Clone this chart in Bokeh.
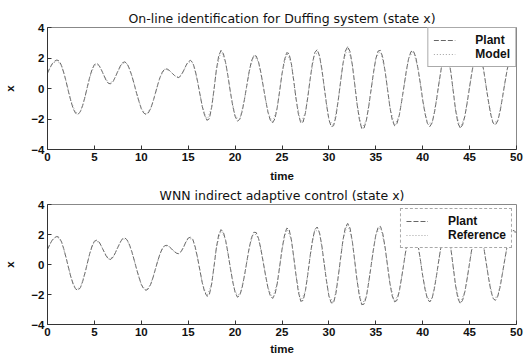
import numpy as np
from bokeh.plotting import figure
from bokeh.layouts import column
from bokeh.models import Range1d, FixedTicker, Legend, LegendItem
from bokeh.embed import file_html
from bokeh.resources import INLINE

# ---------------- data ----------------
dt_fine = 0.25
dt_coarse = 0.5

# top panel: plant state x (step 0.25, t = 0 .. 50)
plant_top = [
    1.00, 1.35, 1.62, 1.79, 1.87, 1.80, 1.50, 1.01, 0.41, -0.24, -0.84, -1.34, -1.63, -1.70, -1.52, -1.11, -0.54, 0.11, 0.74, 1.25,
    1.57, 1.65, 1.51, 1.22, 0.87, 0.54, 0.33, 0.31, 0.47, 0.78, 1.13, 1.46, 1.69, 1.75, 1.61, 1.28, 0.82, 0.27, -0.32, -0.85,
    -1.32, -1.60, -1.70, -1.60, -1.31, -0.86, -0.32, 0.25, 0.73, 1.09, 1.27, 1.28, 1.18, 1.03, 0.87, 0.75, 0.72, 0.86, 1.15, 1.49,
    1.75, 1.85, 1.68, 1.18, 0.46, -0.37, -1.17, -1.76, -2.08, -1.99, -1.24, -0.09, 1.21, 2.13, 2.50, 2.29, 1.66, 0.78, -0.24, -1.15,
    -1.82, -2.14, -2.02, -1.51, -0.71, 0.20, 1.11, 1.81, 2.16, 2.13, 1.73, 1.04, 0.15, -0.74, -1.54, -2.07, -2.25, -1.98, -1.23, -0.16,
    0.96, 1.84, 2.35, 2.29, 1.62, 0.52, -0.68, -1.69, -2.25, -2.20, -1.59, -0.58, 0.61, 1.68, 2.36, 2.55, 2.14, 1.28, 0.10, -1.07,
    -2.04, -2.50, -2.44, -1.83, -0.75, 0.47, 1.63, 2.45, 2.74, 2.43, 1.55, 0.30, -1.00, -2.03, -2.63, -2.59, -2.08, -1.16, -0.07, 1.03,
    1.95, 2.46, 2.50, 2.02, 1.10, -0.05, -1.20, -2.05, -2.44, -2.31, -1.76, -0.87, 0.12, 1.14, 1.96, 2.42, 2.47, 2.08, 1.30, 0.33,
    -0.75, -1.65, -2.28, -2.50, -2.26, -1.59, -0.63, 0.43, 1.39, 2.06, 2.30, 1.97, 1.08, -0.15, -1.38, -2.26, -2.60, -2.39, -1.80, -0.90,
    0.10, 1.10, 1.90, 2.33, 2.36, 1.97, 1.20, 0.19, -0.82, -1.70, -2.26, -2.39, -2.12, -1.51, -0.61, 0.33, 1.22, 1.92, 2.25, 2.26,
    2.10,
]

# top panel: identified model (step 0.5, t = 0 .. 50)
model_top = [
    1.05, 1.58, 1.83, 1.47, 0.45, -0.80, -1.60, -1.55, -0.58, 0.70,
    1.55, 1.52, 0.89, 0.35, 0.46, 1.11, 1.68, 1.62, 0.83, -0.30,
    -1.31, -1.70, -1.31, -0.32, 0.73, 1.27, 1.18, 0.87, 0.72, 1.15,
    1.75, 1.68, 0.46, -1.17, -2.08, -1.24, 1.21, 2.50, 1.66, -0.24,
    -1.82, -2.02, -0.71, 1.11, 2.16, 1.73, 0.15, -1.54, -2.25, -1.23,
    0.96, 2.35, 1.62, -0.68, -2.25, -1.59, 0.61, 2.36, 2.14, 0.10,
    -2.04, -2.44, -0.75, 1.63, 2.74, 1.55, -1.00, -2.63, -2.08, -0.07,
    1.95, 2.50, 1.10, -1.20, -2.44, -1.76, 0.12, 1.96, 2.47, 1.30,
    -0.75, -2.28, -2.26, -0.63, 1.39, 2.30, 1.08, -1.38, -2.60, -1.80,
    0.10, 1.90, 2.36, 1.20, -0.82, -2.26, -2.12, -0.61, 1.22, 2.25,
    2.10,
]

# bottom panel: controlled plant state x (step 0.25, t = 0 .. 50)
plant_bot = [
    1.00, 1.35, 1.62, 1.79, 1.87, 1.80, 1.50, 1.01, 0.41, -0.24, -0.84, -1.34, -1.63, -1.72, -1.55, -1.13, -0.56, 0.09, 0.72, 1.23,
    1.55, 1.62, 1.50, 1.22, 0.89, 0.57, 0.37, 0.34, 0.50, 0.80, 1.15, 1.48, 1.72, 1.77, 1.63, 1.30, 0.84, 0.28, -0.31, -0.85,
    -1.33, -1.62, -1.72, -1.62, -1.32, -0.87, -0.32, 0.24, 0.72, 1.08, 1.26, 1.28, 1.18, 1.03, 0.87, 0.75, 0.72, 0.86, 1.15, 1.50,
    1.76, 1.82, 1.66, 1.16, 0.44, -0.40, -1.22, -1.82, -2.12, -2.02, -1.30, -0.15, 1.10, 1.98, 2.32, 2.16, 1.58, 0.74, -0.26, -1.16,
    -1.85, -2.18, -2.06, -1.54, -0.73, 0.18, 1.09, 1.79, 2.15, 2.13, 1.73, 1.04, 0.15, -0.74, -1.55, -2.08, -2.26, -1.99, -1.24, -0.15,
    1.00, 1.90, 2.42, 2.36, 1.64, 0.50, -0.74, -1.84, -2.45, -2.40, -1.74, -0.66, 0.56, 1.62, 2.32, 2.50, 2.12, 1.24, 0.04, -1.14,
    -2.10, -2.56, -2.55, -1.92, -0.80, 0.44, 1.62, 2.45, 2.74, 2.43, 1.53, 0.26, -1.06, -2.10, -2.68, -2.64, -2.12, -1.18, -0.08, 1.03,
    1.96, 2.48, 2.54, 2.04, 1.10, -0.08, -1.24, -2.10, -2.49, -2.40, -1.80, -0.89, 0.12, 1.14, 1.96, 2.42, 2.47, 2.08, 1.30, 0.33,
    -0.75, -1.65, -2.28, -2.50, -2.26, -1.59, -0.63, 0.43, 1.39, 2.06, 2.30, 1.97, 1.08, -0.15, -1.38, -2.26, -2.60, -2.39, -1.80, -0.90,
    0.10, 1.10, 1.90, 2.33, 2.36, 1.97, 1.20, 0.19, -0.82, -1.70, -2.26, -2.39, -2.12, -1.51, -0.61, 0.33, 1.22, 1.92, 2.25, 2.26,
    2.10,
]

# bottom panel: reference trajectory (step 0.5, t = 0 .. 50)
reference_bot = [
    1.00, 1.62, 1.87, 1.50, 0.41, -0.84, -1.63, -1.55, -0.56, 0.72,
    1.55, 1.50, 0.89, 0.37, 0.50, 1.15, 1.72, 1.63, 0.84, -0.31,
    -1.33, -1.72, -1.32, -0.32, 0.72, 1.26, 1.18, 0.87, 0.72, 1.15,
    1.76, 1.66, 0.44, -1.22, -2.12, -1.30, 1.10, 2.32, 1.58, -0.26,
    -1.85, -2.06, -0.73, 1.09, 2.15, 1.73, 0.15, -1.55, -2.26, -1.24,
    1.00, 2.42, 1.64, -0.74, -2.45, -1.74, 0.56, 2.32, 2.12, 0.04,
    -2.10, -2.55, -0.80, 1.62, 2.74, 1.53, -1.06, -2.68, -2.12, -0.08,
    1.96, 2.54, 1.10, -1.24, -2.49, -1.80, 0.12, 1.96, 2.47, 1.30,
    -0.75, -2.28, -2.26, -0.63, 1.39, 2.30, 1.08, -1.38, -2.60, -1.80,
    0.10, 1.90, 2.36, 1.20, -0.82, -2.26, -2.12, -0.61, 1.22, 2.25,
    2.10,
]

x_ticks = [0, 5, 10, 15, 20, 25, 30, 35, 40, 45, 50]
y_ticks = [-4, -2, 0, 2, 4]

t_fine = [i * dt_fine for i in range(len(plant_top))]
t_coarse = [i * dt_coarse for i in range(len(model_top))]

FONT = "Liberation Sans"


def panel(title, height, b_top, b_bottom, title_standoff, xlabel_standoff,
          plant, other, other_label, legend_border_dash, legend_margin):
    p = figure(width=527, height=height, x_range=Range1d(0, 50), y_range=Range1d(-4, 4),
               output_backend="svg", toolbar_location=None,
               min_border_left=47, min_border_right=11,
               min_border_top=b_top, min_border_bottom=b_bottom)
    p.title.text = title
    p.title.align = "center"
    p.title.offset = 4
    p.title.text_font = "DejaVu Sans"
    p.title.text_font_size = "12.5px"
    p.title.text_font_style = "normal"
    p.title.text_color = "#111111"
    p.title.standoff = title_standoff
    p.grid.visible = False
    p.background_fill_color = "white"
    p.border_fill_color = "white"
    p.outline_line_color = "#888888"
    p.outline_line_width = 1

    for ax in (p.xaxis[0], p.yaxis[0]):
        ax.major_tick_in = 4
        ax.major_tick_out = 0
        ax.minor_tick_in = 0
        ax.minor_tick_out = 0
        ax.axis_line_color = "#333333"
        ax.major_tick_line_color = "#333333"
        ax.major_label_text_font = FONT
        ax.major_label_text_font_size = "11.5px"
        ax.major_label_text_font_style = "bold"
        ax.major_label_text_color = "#111111"
        ax.axis_label_text_font = FONT
        ax.axis_label_text_font_size = "11.5px"
        ax.axis_label_text_font_style = "bold"
        ax.axis_label_text_color = "#111111"

    p.xaxis.ticker = FixedTicker(ticks=x_ticks)
    p.yaxis.ticker = FixedTicker(ticks=y_ticks)
    p.xaxis.axis_label = "time"
    p.yaxis.axis_label = "x"
    p.xaxis.major_label_standoff = 3
    p.xaxis.axis_label_standoff = xlabel_standoff
    p.yaxis.major_label_standoff = 3
    p.yaxis.axis_label_standoff = 12

    r1 = p.line(t_fine, plant, line_color="#666666", line_width=1, line_dash="5 2")
    r2 = p.line(t_coarse, other, line_color="#a0a0a0", line_width=1, line_dash="1 2")

    leg = Legend(items=[LegendItem(label="Plant", renderers=[r1]),
                        LegendItem(label=other_label, renderers=[r2])],
                 location="top_right")
    leg.label_text_font = FONT
    leg.label_text_font_size = "12px"
    leg.label_text_font_style = "bold"
    leg.label_text_color = "#111111"
    leg.border_line_color = "#555555"
    leg.border_line_dash = legend_border_dash
    leg.background_fill_color = "white"
    leg.background_fill_alpha = 1.0
    leg.glyph_width = 22
    leg.glyph_height = 12
    leg.spacing = 0
    leg.padding = 5
    leg.label_standoff = 20
    leg.label_height = 12
    leg.margin = legend_margin
    p.add_layout(leg)
    return p


p1 = panel("On-line identification for Duffing system (state x)", 184, 27, 30, 4, 6,
           plant_top, model_top, "Model", "solid", 0)
p2 = panel("WNN indirect adaptive control (state x)", 173, 16, 29, 3, 4,
           plant_bot, reference_bot, "Reference", "5 2 1 2", 4)

layout = column(p1, p2, spacing=0)
open("out.html", "w").write(file_html(layout, INLINE))
